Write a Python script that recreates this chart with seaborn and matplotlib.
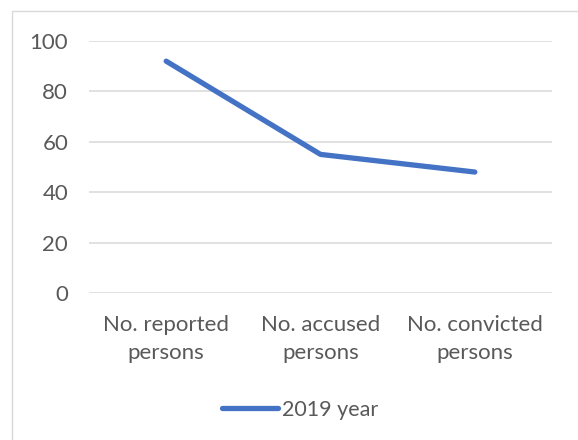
import matplotlib
matplotlib.use("Agg")
import matplotlib.pyplot as plt
from matplotlib.patches import Rectangle
import seaborn as sns
import pandas as pd

categories = ["No. reported\npersons", "No. accused\npersons", "No. convicted\npersons"]
values_2019 = [92, 55, 48]
series_name = "2019 year"
y_ticks = [0, 20, 40, 60, 80, 100]

sns.set_theme(style="white")
plt.rcParams["font.family"] = ["Lato", "DejaVu Sans"]
text_color = "#595959"
fs = 16

df = pd.DataFrame({"category": categories, "value": values_2019, "series": series_name})

fig = plt.figure(figsize=(5.78, 4.40), dpi=100)
ax = fig.add_axes([89 / 578, 1 - 293 / 440, (552 - 89) / 578, (293 - 41) / 440])

sns.lineplot(data=df, x="category", y="value", hue="series", sort=False,
             palette=["#4472C4"], linewidth=3.8, ax=ax, legend=True)
for ln in ax.lines:
    ln.set_solid_capstyle("round")

ax.set_xlim(-0.5, len(categories) - 0.5)
ax.set_ylim(0, 100)
ax.set_yticks(y_ticks)
ax.yaxis.grid(True, color="#D9D9D9", linewidth=1.1)
ax.xaxis.grid(False)
for s in ax.spines.values():
    s.set_visible(False)
ax.set_xlabel("")
ax.set_ylabel("")
ax.tick_params(axis="both", length=0, labelsize=fs, colors=text_color)
ax.tick_params(axis="y", pad=15)
ax.tick_params(axis="x", pad=16)
for lbl in ax.get_xticklabels():
    lbl.set_linespacing(1.5)

leg = ax.legend(loc="center", bbox_to_anchor=((300 - 89) / (552 - 89), (293 - 410) / (293 - 41)),
                frameon=False, fontsize=15.5, handlelength=2.6, handletextpad=0.2)
for t in leg.get_texts():
    t.set_color(text_color)
for h in leg.get_lines():
    h.set_linewidth(3.8)
    h.set_solid_capstyle("round")

fig.patches.append(Rectangle((12 / 578, -0.05), 1.1, 1 - 11 / 440 + 0.05,
                             transform=fig.transFigure, fill=False,
                             edgecolor="#D9D9D9", linewidth=1.0, zorder=0))

fig.savefig("out.png", dpi=100, facecolor="white")
